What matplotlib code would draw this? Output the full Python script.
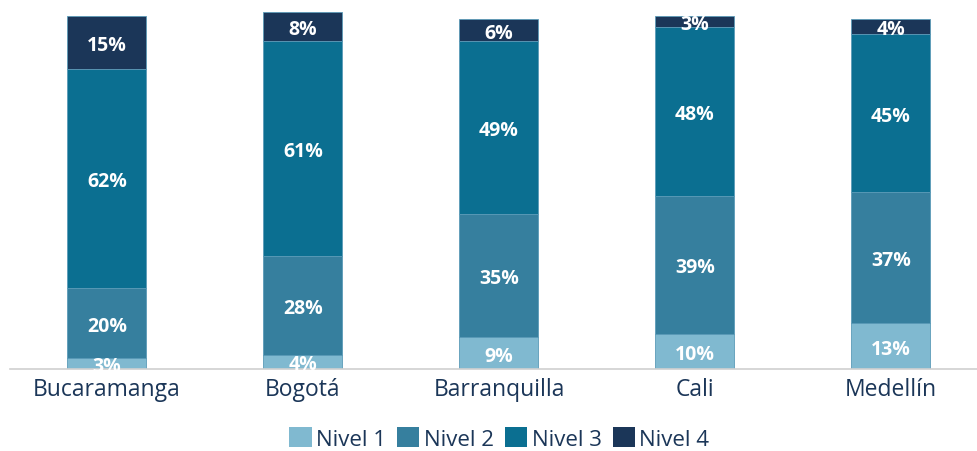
import matplotlib.pyplot as plt
import numpy as np

plt.rcParams['font.family'] = ['Open Sans', 'DejaVu Sans']

# Data
cities = ["Bucaramanga", "Bogotá", "Barranquilla", "Cali", "Medellín"]
nivel1 = [3, 4, 9, 10, 13]
nivel2 = [20, 28, 35, 39, 37]
nivel3 = [62, 61, 49, 48, 45]
nivel4 = [15, 8, 6, 3, 4]

series = [nivel1, nivel2, nivel3, nivel4]
labels = ["Nivel 1", "Nivel 2", "Nivel 3", "Nivel 4"]
colors = ["#80b9d0", "#367f9e", "#0b6f91", "#1b3658"]
text_color = "#1b3658"

fig = plt.figure(figsize=(9.77, 4.52), dpi=100)
ax = fig.add_axes([0.0102, 0.1814, 0.9898, 0.8186])

x = np.arange(len(cities))
width = 0.403
bottom = np.zeros(len(cities))

for vals, lab, col in zip(series, labels, colors):
    vals = np.array(vals, dtype=float)
    ax.bar(x, vals, width, bottom=bottom, color=col, label=lab,
           edgecolor="#5b9bb8", linewidth=0.6)
    for xi, b, v in zip(x, bottom, vals):
        ax.text(xi, b + v / 2, f"{int(v)}%", ha="center", va="center_baseline",
                color="white", fontsize=14, fontweight="bold")
    bottom += vals

ax.set_xlim(-0.495, 4.439)
ax.set_ylim(0, 104.8)
ax.set_yticks([])
ax.set_xticks(x)
ax.set_xticklabels(cities, fontsize=16.5, color=text_color)
ax.tick_params(axis="x", length=0, pad=6)
for side in ["top", "right", "left"]:
    ax.spines[side].set_visible(False)
ax.spines["bottom"].set_color("#d0d0d0")
ax.spines["bottom"].set_linewidth(1.2)

leg = fig.legend(loc="center", bbox_to_anchor=(0.511, 0.028), ncol=4,
                 frameon=False, fontsize=16, handlelength=1.0,
                 handleheight=1.0, handletextpad=0.2, columnspacing=0.5)
for t in leg.get_texts():
    t.set_color(text_color)
for h in leg.legend_handles:
    h.set_edgecolor("none")

fig.savefig("out.png", dpi=100)
